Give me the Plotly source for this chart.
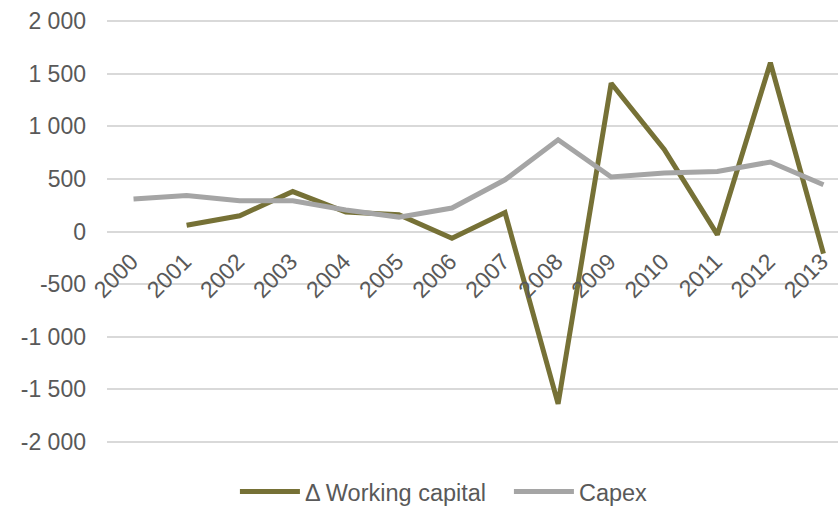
import plotly.graph_objects as go

# Yearly figures
years = ["2000", "2001", "2002", "2003", "2004", "2005", "2006",
         "2007", "2008", "2009", "2010", "2011", "2012", "2013"]
working_capital = [None, 60, 150, 380, 185, 160, -65, 180, -1640, 1410, 780, -30, 1605, -210]
capex = [310, 343, 292, 292, 205, 137, 223, 492, 873, 518, 556, 571, 661, 445]

y_ticks = [-2000, -1500, -1000, -500, 0, 500, 1000, 1500, 2000]
y_ticktext = [f"{v:,}".replace(",", " ") for v in y_ticks]

TEXT = "#595959"
FONT = "Liberation Sans, Arial, sans-serif"

fig = go.Figure()
fig.add_trace(go.Scatter(
    x=years, y=working_capital, name="Δ Working capital", mode="lines",
    line=dict(color="#767136", width=5), connectgaps=False,
))
fig.add_trace(go.Scatter(
    x=years, y=capex, name="Capex", mode="lines",
    line=dict(color="#A5A5A5", width=5),
))

fig.update_layout(
    width=838, height=507,
    margin=dict(l=107, r=0, t=16, b=60, autoexpand=False),
    paper_bgcolor="white", plot_bgcolor="white",
    font=dict(family=FONT, size=23, color=TEXT),
    showlegend=True,
    legend=dict(orientation="h", x=0.175, xanchor="left", y=-0.104, yanchor="middle",
                font=dict(size=23.5, color=TEXT), itemwidth=60,
                entrywidth=199, entrywidthmode="pixels", bgcolor="rgba(0,0,0,0)"),
    xaxis=dict(
        type="category", range=[-0.5, 13.274],
        anchor="free", position=0.5,
        showgrid=False, showline=False, zeroline=False, ticks="",
        tickangle=-45, tickfont=dict(size=23, color=TEXT),
        ticklabelstandoff=11, ticklabelshift=-2,
    ),
    yaxis=dict(
        range=[-2050, 2050], tickvals=y_ticks, ticktext=y_ticktext,
        showgrid=True, gridcolor="#D9D9D9", gridwidth=1.5,
        zeroline=True, zerolinecolor="#D9D9D9", zerolinewidth=1.5,
        showline=False, ticks="", ticklabelstandoff=20,
        tickfont=dict(size=23, color=TEXT),
    ),
)

fig.write_html("out.html")
